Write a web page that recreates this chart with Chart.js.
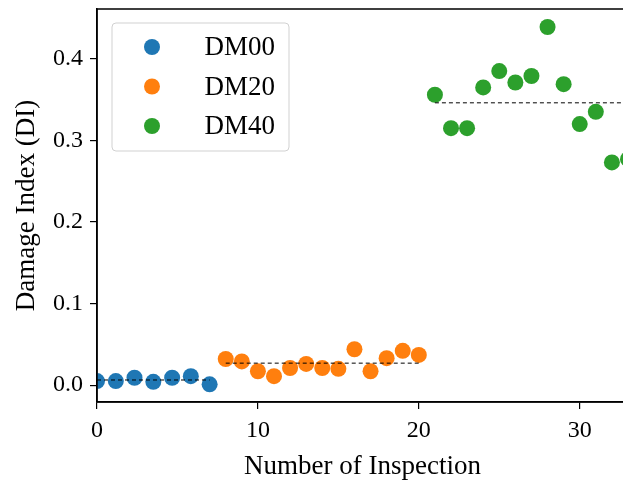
<!DOCTYPE html>
<html>
<head>
<meta charset="utf-8">
<script src="https://cdn.jsdelivr.net/npm/chart.js@4.4.1/dist/chart.umd.min.js"></script>
<style>
  html, body { margin: 0; padding: 0; overflow: hidden; background: #fff; }
  canvas { display: block; }
</style>
</head>
<body>
<canvas id="c" width="640" height="481"></canvas>
<script>
// inspection number (x) and damage index (y) per damage case
const dm00X = [0, 1.17, 2.33, 3.5, 4.67, 5.83, 7];
const dm00Y = [0.005, 0.005, 0.009, 0.004, 0.009, 0.011, 0.001];
const dm20X = [8, 9, 10, 11, 12, 13, 14, 15, 16, 17, 18, 19, 20];
const dm20Y = [0.032, 0.029, 0.017, 0.011, 0.021, 0.026, 0.021, 0.020, 0.044, 0.017, 0.033, 0.042, 0.037];
const dm40X = [21, 22, 23, 24, 25, 26, 27, 28, 29, 30, 31, 32, 33];
const dm40Y = [0.356, 0.315, 0.315, 0.365, 0.385, 0.371, 0.379, 0.439, 0.369, 0.320, 0.335, 0.273, 0.277];
const labels = ["DM00", "DM20", "DM40"];
const colors = ["#1f77b4", "#ff7f0e", "#2ca02c"];
const xTicks = [0, 10, 20, 30];
const yTicks = [0.0, 0.1, 0.2, 0.3, 0.4];

const FONT = "'Liberation Serif', 'DejaVu Serif', serif";
const groups = [[dm00X, dm00Y], [dm20X, dm20Y], [dm40X, dm40Y]];

const pts = (xs, ys) => xs.map((x, i) => ({ x, y: ys[i] }));
const mean = (ys) => ys.reduce((s, v) => s + v, 0) / ys.length;

// dashed mean line over each group, drawn on top of the dots
const meanSets = groups.map(([xs, ys]) => ({
  type: "line",
  data: [{ x: xs[0], y: mean(ys) }, { x: xs[xs.length - 1], y: mean(ys) }],
  borderColor: "#000", borderWidth: 1, borderDash: [4, 3],
  pointRadius: 0, fill: false, order: 0,
}));

const dotSets = groups.map(([xs, ys], i) => ({
  type: "scatter",
  label: labels[i],
  data: pts(xs, ys),
  backgroundColor: colors[i], borderColor: colors[i], borderWidth: 0,
  pointRadius: 8, pointHoverRadius: 8, clip: 0, order: 1,
}));

const frame = {
  id: "frame",
  afterDraw(chart) {
    const { ctx, chartArea: a } = chart;
    ctx.save();
    ctx.strokeStyle = "#000";
    ctx.lineWidth = 1.5;
    ctx.strokeRect(a.left, a.top, a.right - a.left, a.bottom - a.top);

    // legend box, upper left
    const bx = 112, by = 23, bw = 177, bh = 128;
    ctx.beginPath();
    ctx.roundRect(bx, by, bw, bh, 4);
    ctx.fillStyle = "rgba(255,255,255,0.8)";
    ctx.fill();
    ctx.strokeStyle = "rgba(204,204,204,0.9)";
    ctx.lineWidth = 1;
    ctx.stroke();
    ctx.font = "27px " + FONT;
    ctx.textBaseline = "middle";
    ctx.textAlign = "right";
    labels.forEach((l, i) => {
      const cy = 47 + i * 39.5;
      ctx.beginPath();
      ctx.arc(152, cy, 8, 0, Math.PI * 2);
      ctx.fillStyle = colors[i];
      ctx.fill();
      ctx.fillStyle = "#000";
      ctx.fillText(l, 275, cy + 1);
    });
    ctx.restore();
  },
};

new Chart(document.getElementById("c"), {
  data: { datasets: [...meanSets, ...dotSets] },
  options: {
    responsive: false,
    animation: false,
    events: [],
    layout: { padding: { top: 9, right: 12, left: 0, bottom: 0 } },
    plugins: { legend: { display: false }, tooltip: { enabled: false } },
    scales: {
      x: {
        type: "linear", min: 0, max: 33,
        afterBuildTicks: (s) => { s.ticks = xTicks.map((v) => ({ value: v })); },
        afterFit: (s) => { s.height = 79; s.paddingLeft = 0; s.paddingRight = 0; },
        grid: { drawOnChartArea: false, color: "#000", tickLength: 7, lineWidth: 1.2 },
        border: { display: true, color: "#000", width: 1.5 },
        ticks: { color: "#000", font: { family: FONT, size: 24 }, padding: 7, maxRotation: 0 },
        title: { display: true, text: "Number of Inspection", color: "#000",
                 font: { family: FONT, size: 27, lineHeight: 1 }, padding: { top: 0, bottom: 1 } },
      },
      y: {
        type: "linear", min: -0.0207, max: 0.4611,
        afterBuildTicks: (s) => { s.ticks = yTicks.map((v) => ({ value: v })); },
        afterFit: (s) => { s.width = 97; s.paddingTop = 0; s.paddingBottom = 0; },
        grid: { drawOnChartArea: false, color: "#000", tickLength: 7, lineWidth: 1.2 },
        border: { display: true, color: "#000", width: 1.5 },
        ticks: { color: "#000", font: { family: FONT, size: 24 }, padding: 7,
                 callback: (v) => Number(v).toFixed(1) },
        title: { display: true, text: "Damage Index (DI)", color: "#000",
                 font: { family: FONT, size: 27 }, padding: { top: 11, bottom: 0 } },
      },
    },
  },
  plugins: [frame],
});
</script>
</body>
</html>
